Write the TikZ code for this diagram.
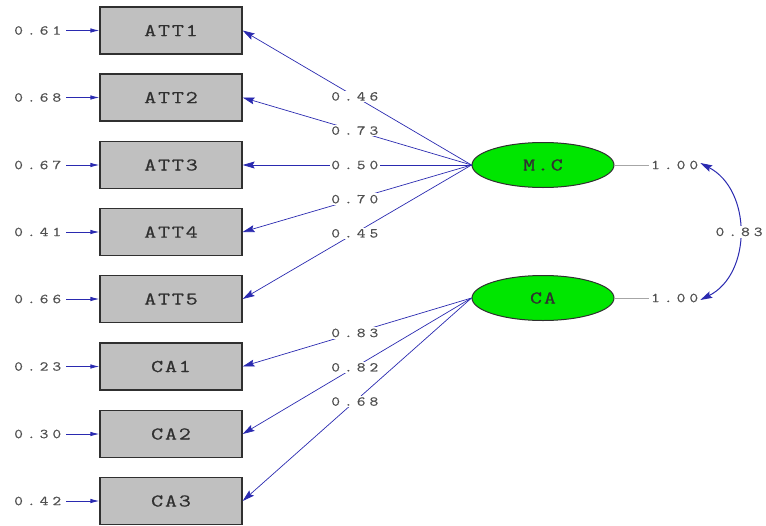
\documentclass[tikz,border=0pt]{standalone}
\usepackage{fontspec}
\usetikzlibrary{arrows.meta,shapes.geometric}
\newfontfamily\numfont[LetterSpace=30,FakeStretch=1.25,FakeBold=0.6]{Latin Modern Mono}
\newfontfamily\varfont[LetterSpace=10,FakeStretch=1.3,FakeBold=0.8]{Latin Modern Mono}
\definecolor{pathblue}{HTML}{2A2AB0}
\definecolor{boxgray}{HTML}{C0C0C0}
\definecolor{latgreen}{HTML}{00E600}
\definecolor{numtext}{HTML}{505050}
\definecolor{vartext}{HTML}{303030}
\tikzset{
  obsvar/.style={draw=vartext, line width=1.3pt, fill=boxgray, minimum width=142pt,
    minimum height=47pt, inner sep=0pt, font=\varfont\fontsize{18}{18}\selectfont, text=vartext},
  latvar/.style={ellipse, draw=vartext, line width=1pt, fill=latgreen, minimum width=142pt,
    minimum height=45pt, inner sep=0pt, font=\varfont\fontsize{18}{18}\selectfont, text=vartext},
  errlabel/.style={font=\numfont\fontsize{13.5}{13.5}\selectfont, text=numtext, inner sep=2pt},
  coeflabel/.style={font=\numfont\fontsize{13.5}{13.5}\selectfont, text=numtext, fill=white,
    inner sep=1.5pt},
  errarrow/.style={pathblue, line width=0.8pt, -{Latex[length=9pt,width=4.5pt]}},
  loadarrow/.style={pathblue, line width=0.7pt, -{Stealth[length=12pt,width=7pt,inset=2pt]}},
  varline/.style={gray!70, line width=0.8pt},
  covarrow/.style={pathblue, line width=1pt,
    {Stealth[length=12pt,width=7pt,inset=2pt]}-{Stealth[length=12pt,width=7pt,inset=2pt]}}
}
\begin{document}
\begin{tikzpicture}[x=1pt,y=-1pt]
\useasboundingbox (0,0) rectangle (766,525);

% observed indicators
\node[obsvar] (att1) at (171,30.5) {ATT1};
\node[obsvar] (att2) at (171,97.5) {ATT2};
\node[obsvar] (att3) at (171,165) {ATT3};
\node[obsvar] (att4) at (171,232) {ATT4};
\node[obsvar] (att5) at (171,299) {ATT5};
\node[obsvar] (ca1) at (171,366.5) {CA1};
\node[obsvar] (ca2) at (171,434) {CA2};
\node[obsvar] (ca3) at (171,501) {CA3};

% error variances
\foreach \n/\v in {att1/0.61, att2/0.68, att3/0.67, att4/0.41, att5/0.66, ca1/0.23, ca2/0.30, ca3/0.42}{
  \node[errlabel, anchor=east] (e\n) at ([xshift=-36pt]\n.west) {\v};
  \draw[errarrow] ([xshift=3pt]e\n.east) -- (\n.west);
}

% latent factors
\node[latvar] (mc) at (543,165) {M.C};
\node[latvar] (ca) at (543,298) {CA};

% factor loadings
\foreach \t/\v in {att1/0.46, att2/0.73, att3/0.50, att4/0.70, att5/0.45}{
  \draw[loadarrow] (mc.west) -- node[coeflabel, pos=0.51] {\v} (\t.east);
}
\foreach \t/\v in {ca1/0.83, ca2/0.82, ca3/0.68}{
  \draw[loadarrow] (ca.west) -- node[coeflabel, pos=0.51] {\v} (\t.east);
}

% factor variances
\node[errlabel, anchor=west] (vmc) at (649,165) {1.00};
\node[errlabel, anchor=west] (vca) at (649,298) {1.00};
\draw[varline] (mc.east) -- (vmc.west);
\draw[varline] (ca.east) -- (vca.west);

% factor covariance
\draw[covarrow] ([yshift=2pt]vmc.east) .. controls (752,190) and (752,274) ..
  node[coeflabel, pos=0.5] (cov) {0.83} ([yshift=-2pt]vca.east);
\end{tikzpicture}
\end{document}
